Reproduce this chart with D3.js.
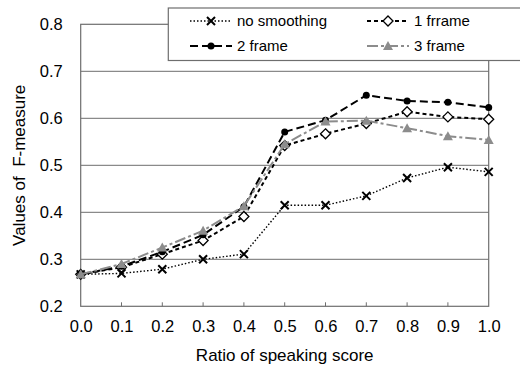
<!DOCTYPE html>
<html>
<head>
<meta charset="utf-8">
<script src="https://cdn.jsdelivr.net/npm/d3@7"></script>
<style>
  body { margin: 0; background: #fff; }
  text { font-family: "Liberation Sans", Arial, sans-serif; fill: #000; }
</style>
</head>
<body>
<div id="chart"></div>
<script>
// values
var ratios = [0.0, 0.1, 0.2, 0.3, 0.4, 0.5, 0.6, 0.7, 0.8, 0.9, 1.0];
var noSmoothing = [0.268, 0.270, 0.279, 0.300, 0.311, 0.415, 0.415, 0.435, 0.473, 0.496, 0.486];
var frame1 = [0.268, 0.283, 0.311, 0.340, 0.391, 0.542, 0.567, 0.589, 0.614, 0.603, 0.598];
var frame2 = [0.268, 0.285, 0.316, 0.352, 0.412, 0.571, 0.596, 0.649, 0.637, 0.634, 0.623];
var frame3 = [0.268, 0.290, 0.325, 0.361, 0.413, 0.545, 0.593, 0.595, 0.579, 0.562, 0.554];
var yTicks = [0.2, 0.3, 0.4, 0.5, 0.6, 0.7, 0.8];
var seriesNames = ["no smoothing", "1 frrame", "2 frame", "3 frame"];

var width = 520, height = 367;
var x0 = 80.7, x1 = 488.7, yb = 306.3, yt = 24.3;

var x = d3.scaleLinear().domain([0, 1]).range([x0, x1]);
var y = d3.scaleLinear().domain([0.2, 0.8]).range([yb, yt]);

var svg = d3.select("#chart").append("svg")
    .attr("width", width)
    .attr("height", height);

// gridlines
svg.append("g").selectAll("line")
    .data(yTicks.slice(1, -1))
    .enter().append("line")
    .attr("x1", x0).attr("x2", x1)
    .attr("y1", function(d) { return y(d) }).attr("y2", function(d) { return y(d) })
    .attr("stroke", "#8a8a8a")
    .attr("stroke-width", 1.2)

// plot frame
svg.append("rect")
    .attr("x", x0).attr("y", yt)
    .attr("width", x1 - x0).attr("height", yb - yt)
    .attr("fill", "none")
    .attr("stroke", "#6e6e6e")
    .attr("stroke-width", 1.2)

// small x ticks
svg.append("g").selectAll("line")
    .data(ratios.slice(1, -1))
    .enter().append("line")
    .attr("x1", function(d) { return x(d) }).attr("x2", function(d) { return x(d) })
    .attr("y1", yb).attr("y2", yb - 4)
    .attr("stroke", "#6e6e6e")

// axes labels
var xAxis = d3.axisBottom(x).tickValues(ratios).tickFormat(d3.format(".1f")).tickSize(0).tickPadding(14);
svg.append("g").attr("transform", "translate(0," + yb + ")").call(xAxis)
    .call(function(g) { g.select(".domain").remove() })
    .selectAll("text").style("font-size", "16.5px").attr("font-family", null);

var yAxis = d3.axisLeft(y).tickValues(yTicks).tickFormat(d3.format(".1f")).tickSize(0).tickPadding(18);
svg.append("g").attr("transform", "translate(" + x0 + ",0)").call(yAxis)
    .call(function(g) { g.select(".domain").remove() })
    .selectAll("text").style("font-size", "16.5px").attr("font-family", null);

svg.append("text")
    .attr("x", (x0 + x1) / 2).attr("y", 361)
    .attr("text-anchor", "middle")
    .style("font-size", "17px")
    .text("Ratio of speaking score")

svg.append("text")
    .attr("transform", "translate(25," + ((yb + yt) / 2) + ") rotate(-90)")
    .attr("text-anchor", "middle")
    .style("font-size", "17px")
    .attr("xml:space", "preserve")
    .text("Values of  F-measure")

// series styles
var styles = [
  {data: noSmoothing, color: "#000", dash: "1.5,2", width: 1.4, marker: "cross"},
  {data: frame1, color: "#000", dash: "4,3", width: 2, marker: "diamond"},
  {data: frame2, color: "#000", dash: "8,4", width: 2, marker: "circle"},
  {data: frame3, color: "#8c8c8c", dash: "11,3,3,3", width: 2, marker: "triangle"}
];

function drawMarker(g, type, color) {
  if (type == "cross") {
    g.append("path").attr("d", "M-4,-4L4,4M-4,4L4,-4")
      .attr("stroke", "#000").attr("stroke-width", 2)
  } else if (type == "diamond") {
    g.append("path").attr("d", "M0,-5L5,0L0,5L-5,0Z")
      .attr("fill", "#fff").attr("stroke", "#000").attr("stroke-width", 1.3)
  } else if (type == "circle") {
    g.append("circle").attr("r", 3.5).attr("fill", "#000")
  } else {
    g.append("path").attr("d", "M0,-5L5,4L-5,4Z").attr("fill", color)
  }
}

var line = d3.line()
    .x(function(d, i) { return x(ratios[i]) })
    .y(function(d) { return y(d) });

styles.forEach(function(s) {
  svg.append("path")
    .attr("d", line(s.data))
    .attr("fill", "none")
    .attr("stroke", s.color)
    .attr("stroke-width", s.width)
    .attr("stroke-dasharray", s.dash)
  s.data.forEach(function(v, i) {
    var g = svg.append("g").attr("transform", "translate(" + x(ratios[i]) + "," + y(v) + ")");
    drawMarker(g, s.marker, s.color);
  })
})

// legend
var legend = svg.append("g");
legend.append("rect")
    .attr("x", 168.3).attr("y", 8)
    .attr("width", 360).attr("height", 52.5)
    .attr("fill", "#fff")
    .attr("stroke", "#6e6e6e")
    .attr("stroke-width", 1.2)

var legendPos = [[190, 21], [367, 21], [190, 46], [367, 46]];
styles.forEach(function(s, i) {
  var lx = legendPos[i][0], ly = legendPos[i][1];
  legend.append("line")
    .attr("x1", lx).attr("x2", lx + 42)
    .attr("y1", ly).attr("y2", ly)
    .attr("stroke", s.color)
    .attr("stroke-width", s.width)
    .attr("stroke-dasharray", s.dash)
  var g = legend.append("g").attr("transform", "translate(" + (lx + 21) + "," + ly + ")");
  drawMarker(g, s.marker, s.color);
  legend.append("text")
    .attr("x", lx + 47).attr("y", ly + 5)
    .style("font-size", "15px")
    .text(seriesNames[i])
})
</script>
</body>
</html>
